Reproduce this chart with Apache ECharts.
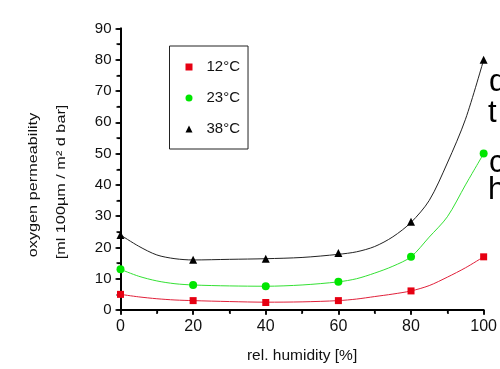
<!DOCTYPE html>
<html>
<head>
<meta charset="utf-8">
<script src="https://cdn.jsdelivr.net/npm/echarts@6/dist/echarts.min.js"></script>
<style>html,body{margin:0;padding:0;background:#fff}#c{width:500px;height:369px}</style>
</head>
<body>
<div id="c"></div>
<script>
// Measured points
const humidity = [0, 20, 40, 60, 80, 100];
const perm12 = [5.0, 3.0, 2.4, 3.0, 6.1, 17.0];
const perm23 = [13.0, 8.0, 7.6, 9.0, 17.0, 50.0];
const perm38 = [24.0, 16.1, 16.4, 18.2, 28.2, 80.0];
// Fitted curves
const curveX = [0, 5, 10, 15, 20, 30, 40, 50, 60, 65, 70, 75, 80, 85, 90, 95, 100];
const curve12 = [5.0, 4.2, 3.6, 3.2, 3.0, 2.7, 2.5, 2.6, 3.0, 3.5, 4.3, 5.1, 6.1, 7.8, 10.5, 13.5, 17.0];
const curve23 = [13.0, 10.8, 9.3, 8.4, 8.0, 7.7, 7.6, 8.0, 9.0, 10.0, 11.8, 14.0, 17.0, 23.3, 29.8, 40.0, 50.0];
const curve38 = [24.0, 20.4, 17.6, 16.4, 16.0, 16.2, 16.4, 16.8, 17.8, 18.6, 20.3, 23.4, 28.0, 35.0, 47.0, 61.0, 80.0];
const seriesNames = ['12°C', '23°C', '38°C'];
const xTicks = [0, 20, 40, 60, 80, 100];
const yTicks = [0, 10, 20, 30, 40, 50, 60, 70, 80, 90];
const sideText = ['d', 't', 'c', 'h'];

const FONT = '"Liberation Sans", Arial, sans-serif';
const colors = ['#e60012', '#00e600', '#000000'];
const lineColors = ['#e0203a', '#33e033', '#222222'];
const symbols = ['rect', 'circle', 'triangle'];
const symSizes = [7, 8, 8];

const pair = (xs, ys) => xs.map((x, i) => [x, ys[i]]);
const pts = [perm12, perm23, perm38];
const curves = [curve12, curve23, curve38];

const series = [];
curves.forEach((c, i) => {
  series.push({
    type: 'line', data: pair(curveX, c), smooth: 0.3, showSymbol: false, symbol: 'none',
    lineStyle: { color: lineColors[i], width: 1 }, silent: true, z: 2
  });
});
pts.forEach((p, i) => {
  series.push({
    name: seriesNames[i], type: 'scatter', data: pair(humidity, p),
    symbol: symbols[i], symbolSize: symSizes[i],
    itemStyle: { color: colors[i], opacity: 1 }, z: 5
  });
});

const grid = { left: 120.5, right: 13.5, top: 28.5, bottom: 56.3 };

const chart = echarts.init(document.getElementById('c'), null, { renderer: 'canvas' });
chart.setOption({
  animation: false,
  backgroundColor: '#fff',
  grid: grid,
  legend: {
    data: seriesNames.map((n, i) => ({ name: n, icon: symbols[i] })),
    orient: 'vertical', left: 169.5, top: 46,
    itemWidth: 7, itemHeight: 7, itemGap: 15,
    padding: [13, 8, 12, 16],
    borderColor: '#222', borderWidth: 1,
    textStyle: { fontFamily: FONT, fontSize: 15, color: '#111', lineHeight: 16, padding: [0, 0, 0, 9] }
  },
  xAxis: [{
    type: 'value', min: xTicks[0], max: xTicks[xTicks.length - 1], interval: 20,
    axisLine: { show: true, lineStyle: { color: '#000', width: 1.8 } },
    axisTick: { show: true, inside: false, length: 5, lineStyle: { color: '#000', width: 1.5 } },
    minorTick: { show: true, splitNumber: 2, length: 3, lineStyle: { color: '#000', width: 1.2 } },
    splitLine: { show: false },
    axisLabel: { fontFamily: FONT, fontSize: 16, color: '#111', margin: 9 },
    name: 'rel. humidity [%]', nameLocation: 'middle', nameGap: 38,
    nameTextStyle: { fontFamily: FONT, fontSize: 15.5, color: '#111' }
  }, {
    type: 'value', position: 'top', min: 0, max: 100, interval: 10,
    axisLine: { show: true, lineStyle: { color: '#000', width: 1.5 } },
    axisTick: { show: true, inside: true, length: 4, lineStyle: { color: '#000', width: 1.5 } },
    axisLabel: { show: false }, splitLine: { show: false }
  }],
  yAxis: [{
    type: 'value', min: yTicks[0], max: yTicks[yTicks.length - 1], interval: 10,
    axisLine: { show: true, lineStyle: { color: '#000', width: 1.8 } },
    axisTick: { show: true, inside: false, length: 5, lineStyle: { color: '#000', width: 1.5 } },
    minorTick: { show: true, splitNumber: 2, length: 3, lineStyle: { color: '#000', width: 1.2 } },
    splitLine: { show: false },
    axisLabel: { fontFamily: FONT, fontSize: 15, color: '#111', margin: 9 }
  }, {
    type: 'value', position: 'right', min: 0, max: 90, interval: 5,
    axisLine: { show: true, lineStyle: { color: '#000', width: 1.8 } },
    axisTick: { show: true, inside: true, length: 4, lineStyle: { color: '#000', width: 1.5 } },
    axisLabel: { show: false }, splitLine: { show: false }
  }],
  series: series,
  graphic: [
    { type: 'text', rotation: Math.PI / 2, x: 33, y: 185, scaleX: 1.25, scaleY: 1,
      style: { text: 'oxygen permeability', font: '13px ' + FONT, fill: '#111', align: 'center', verticalAlign: 'middle' } },
    { type: 'text', rotation: Math.PI / 2, x: 61, y: 182, scaleX: 1.25, scaleY: 1,
      style: { text: '[ml 100µm / m² d bar]', font: '13px ' + FONT, fill: '#111', align: 'center', verticalAlign: 'middle' } },
    { type: 'text', x: 489, y: 67, style: { text: sideText[0], font: '31px ' + FONT, fill: '#000', verticalAlign: 'alphabetic' } },
    { type: 'text', x: 488, y: 98, style: { text: sideText[1], font: '31px ' + FONT, fill: '#000', verticalAlign: 'alphabetic' } },
    { type: 'text', x: 489, y: 148, style: { text: sideText[2], font: '31px ' + FONT, fill: '#000', verticalAlign: 'alphabetic' } },
    { type: 'text', x: 488, y: 175, style: { text: sideText[3], font: '31px ' + FONT, fill: '#000', verticalAlign: 'alphabetic' } }
  ]
});
</script>
</body>
</html>
